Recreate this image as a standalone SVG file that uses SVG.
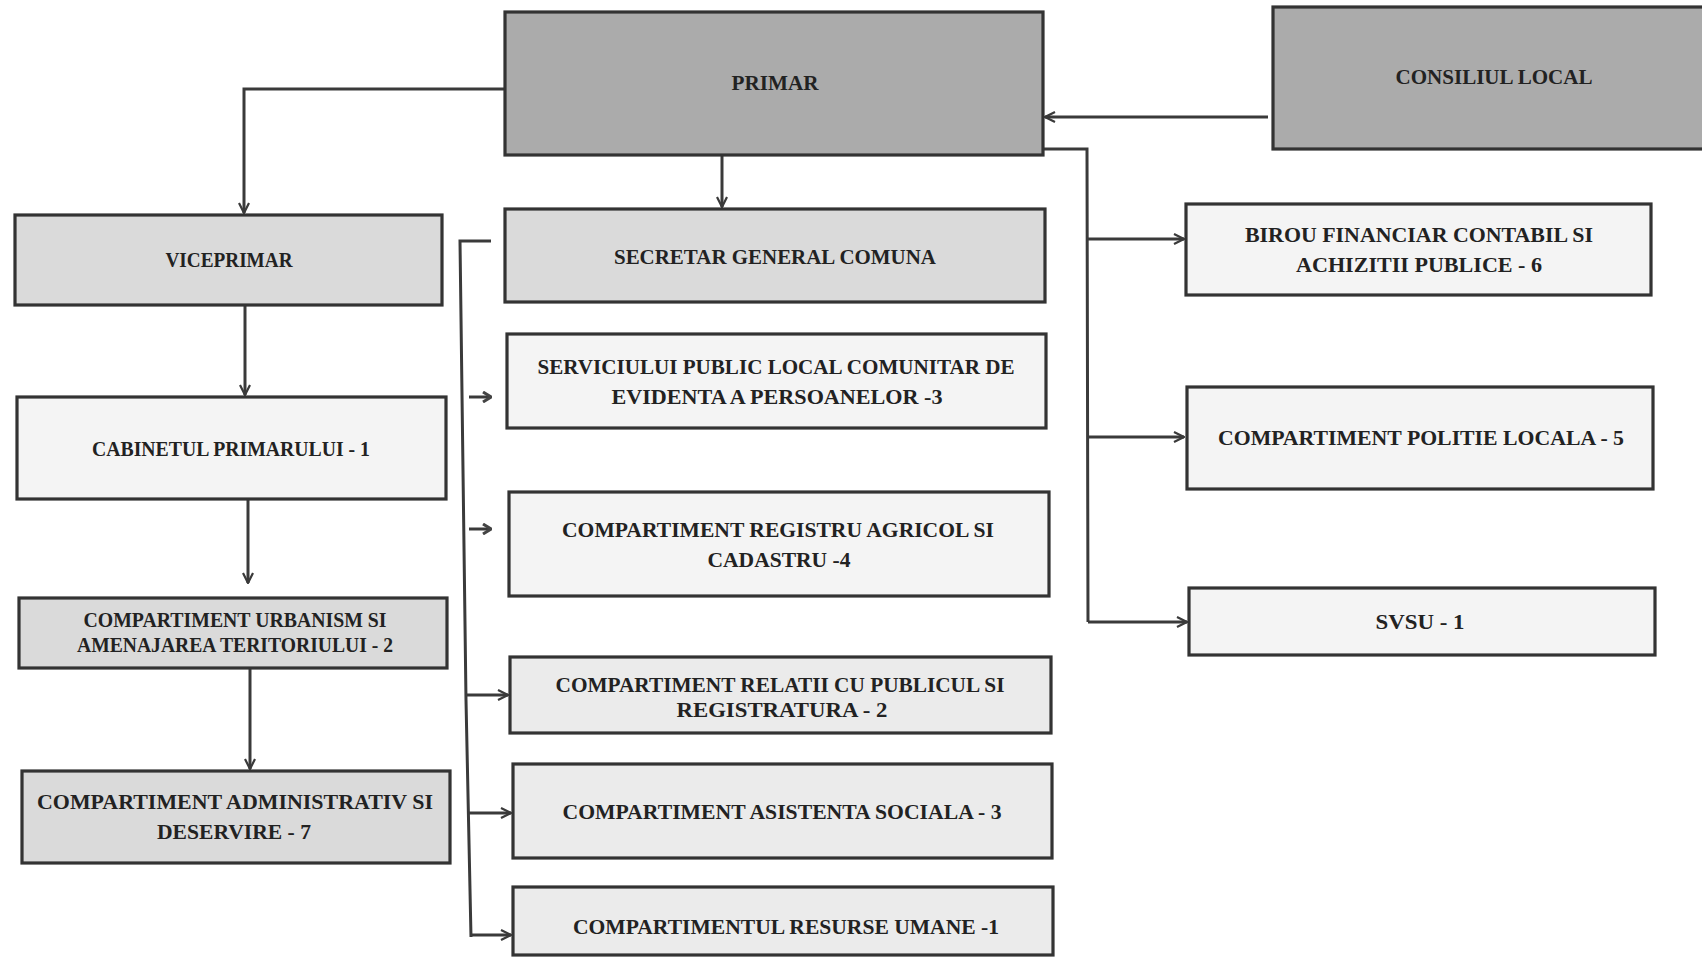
<svg xmlns="http://www.w3.org/2000/svg" width="1702" height="958" viewBox="0 0 1702 958">
<defs>
<marker id="arr" viewBox="0 0 12 12" refX="11" refY="6" markerWidth="12" markerHeight="12" markerUnits="userSpaceOnUse" orient="auto">
<path d="M1,1 L11,6 L1,11" fill="none" stroke="#3a3a3a" stroke-width="2.2"/>
</marker>
<marker id="arrs" viewBox="0 0 12 12" refX="11" refY="6" markerWidth="12" markerHeight="12" markerUnits="userSpaceOnUse" orient="auto">
<path d="M3,1 L11,6 L3,11" fill="none" stroke="#444" stroke-width="3"/>
</marker>
</defs>
<style>
.box{stroke:#333;stroke-width:3.2}
.dark{fill:#ababab}
.mid{fill:#dadada}
.lite{fill:#ebebeb}
.pale{fill:#f4f4f4}
.t{font-family:"Liberation Serif","DejaVu Serif",serif;font-weight:bold;font-size:21px;fill:#222;text-anchor:middle}
.c{fill:none;stroke:#3a3a3a;stroke-width:3}
</style>
<rect width="1702" height="958" fill="#ffffff"/>

<g id="connectors">
<path class="c" d="M1268,117 L1045,117" marker-end="url(#arr)"/>
<path class="c" d="M505,89 L244,89 L244,213" marker-end="url(#arr)"/>
<path class="c" d="M722,156 L722,207" marker-end="url(#arr)"/>
<path class="c" d="M1043,149 L1087,149 L1088,622"/>
<path class="c" d="M1087,239 L1184,239" marker-end="url(#arr)"/>
<path class="c" d="M1088,437 L1184,437" marker-end="url(#arr)"/>
<path class="c" d="M1088,622 L1187,622" marker-end="url(#arr)"/>
<path class="c" d="M245,305 L245,395" marker-end="url(#arr)"/>
<path class="c" d="M248,500 L248,583" marker-end="url(#arr)"/>
<path class="c" d="M250,668 L250,769" marker-end="url(#arr)"/>
<path class="c" d="M491,241 L460,241 L466,700 L471,937"/>
<path class="c" d="M469,397 L491,397" marker-end="url(#arrs)"/>
<path class="c" d="M469,529 L491,529" marker-end="url(#arrs)"/>
<path class="c" d="M466,695 L508,695" marker-end="url(#arr)"/>
<path class="c" d="M468,813 L511,813" marker-end="url(#arr)"/>
<path class="c" d="M471,935 L511,935" marker-end="url(#arr)"/>
</g>

<g id="primar"><rect class="box dark" x="505" y="12" width="538" height="143"/>
<text class="t" x="775" y="90" textLength="87" lengthAdjust="spacingAndGlyphs">PRIMAR</text></g>

<g id="consiliul-local"><rect class="box dark" x="1273" y="7" width="440" height="142"/>
<text class="t" x="1494" y="84" textLength="197" lengthAdjust="spacingAndGlyphs">CONSILIUL LOCAL</text></g>

<g id="viceprimar"><rect class="box mid" x="15" y="215" width="427" height="90"/>
<text class="t" x="229" y="267" textLength="127" lengthAdjust="spacingAndGlyphs">VICEPRIMAR</text></g>

<g id="secretar"><rect class="box mid" x="505" y="209" width="540" height="93"/>
<text class="t" x="775" y="264" textLength="322" lengthAdjust="spacingAndGlyphs">SECRETAR GENERAL COMUNA</text></g>

<g id="birou-financiar"><rect class="box pale" x="1186" y="204" width="465" height="91"/>
<text class="t" x="1419" y="242" textLength="348" lengthAdjust="spacingAndGlyphs">BIROU  FINANCIAR CONTABIL SI</text>
<text class="t" x="1419" y="272" textLength="246" lengthAdjust="spacingAndGlyphs">ACHIZITII PUBLICE  - 6</text></g>

<g id="politie-locala"><rect class="box pale" x="1187" y="387" width="466" height="102"/>
<text class="t" x="1421" y="445" textLength="406" lengthAdjust="spacingAndGlyphs">COMPARTIMENT POLITIE LOCALA -  5</text></g>

<g id="svsu"><rect class="box pale" x="1189" y="588" width="466" height="67"/>
<text class="t" x="1420" y="629" textLength="89" lengthAdjust="spacingAndGlyphs">SVSU - 1</text></g>

<g id="cabinetul"><rect class="box pale" x="17" y="397" width="429" height="102"/>
<text class="t" x="231" y="456" textLength="278" lengthAdjust="spacingAndGlyphs">CABINETUL PRIMARULUI - 1</text></g>

<g id="urbanism"><rect class="box mid" x="19" y="598" width="428" height="70"/>
<text class="t" x="235" y="627" textLength="303" lengthAdjust="spacingAndGlyphs">COMPARTIMENT URBANISM SI</text>
<text class="t" x="235" y="652" textLength="316" lengthAdjust="spacingAndGlyphs">AMENAJAREA TERITORIULUI - 2</text></g>

<g id="administrativ"><rect class="box mid" x="22" y="771" width="428" height="92"/>
<text class="t" x="235" y="809" textLength="396" lengthAdjust="spacingAndGlyphs">COMPARTIMENT ADMINISTRATIV SI</text>
<text class="t" x="234" y="839" textLength="154" lengthAdjust="spacingAndGlyphs">DESERVIRE - 7</text></g>

<g id="evidenta"><rect class="box pale" x="507" y="334" width="539" height="94"/>
<text class="t" x="776" y="374" textLength="477" lengthAdjust="spacingAndGlyphs">SERVICIULUI PUBLIC LOCAL COMUNITAR DE</text>
<text class="t" x="777" y="404" textLength="331" lengthAdjust="spacingAndGlyphs">EVIDENTA A PERSOANELOR  -3</text></g>

<g id="registru-agricol"><rect class="box pale" x="509" y="492" width="540" height="104"/>
<text class="t" x="778" y="537" textLength="432" lengthAdjust="spacingAndGlyphs">COMPARTIMENT REGISTRU AGRICOL  SI</text>
<text class="t" x="779" y="567" textLength="143" lengthAdjust="spacingAndGlyphs">CADASTRU -4</text></g>

<g id="relatii-public"><rect class="box lite" x="510" y="657" width="541" height="76"/>
<text class="t" x="780" y="692" textLength="449" lengthAdjust="spacingAndGlyphs">COMPARTIMENT RELATII CU PUBLICUL SI</text>
<text class="t" x="782" y="717" textLength="211" lengthAdjust="spacingAndGlyphs">REGISTRATURA   - 2</text></g>

<g id="asistenta-sociala"><rect class="box lite" x="513" y="764" width="539" height="94"/>
<text class="t" x="782" y="819" textLength="439" lengthAdjust="spacingAndGlyphs">COMPARTIMENT ASISTENTA SOCIALA - 3</text></g>

<g id="resurse-umane"><rect class="box lite" x="513" y="887" width="540" height="68"/>
<text class="t" x="786" y="934" textLength="426" lengthAdjust="spacingAndGlyphs">COMPARTIMENTUL RESURSE UMANE -1</text></g>
</svg>
